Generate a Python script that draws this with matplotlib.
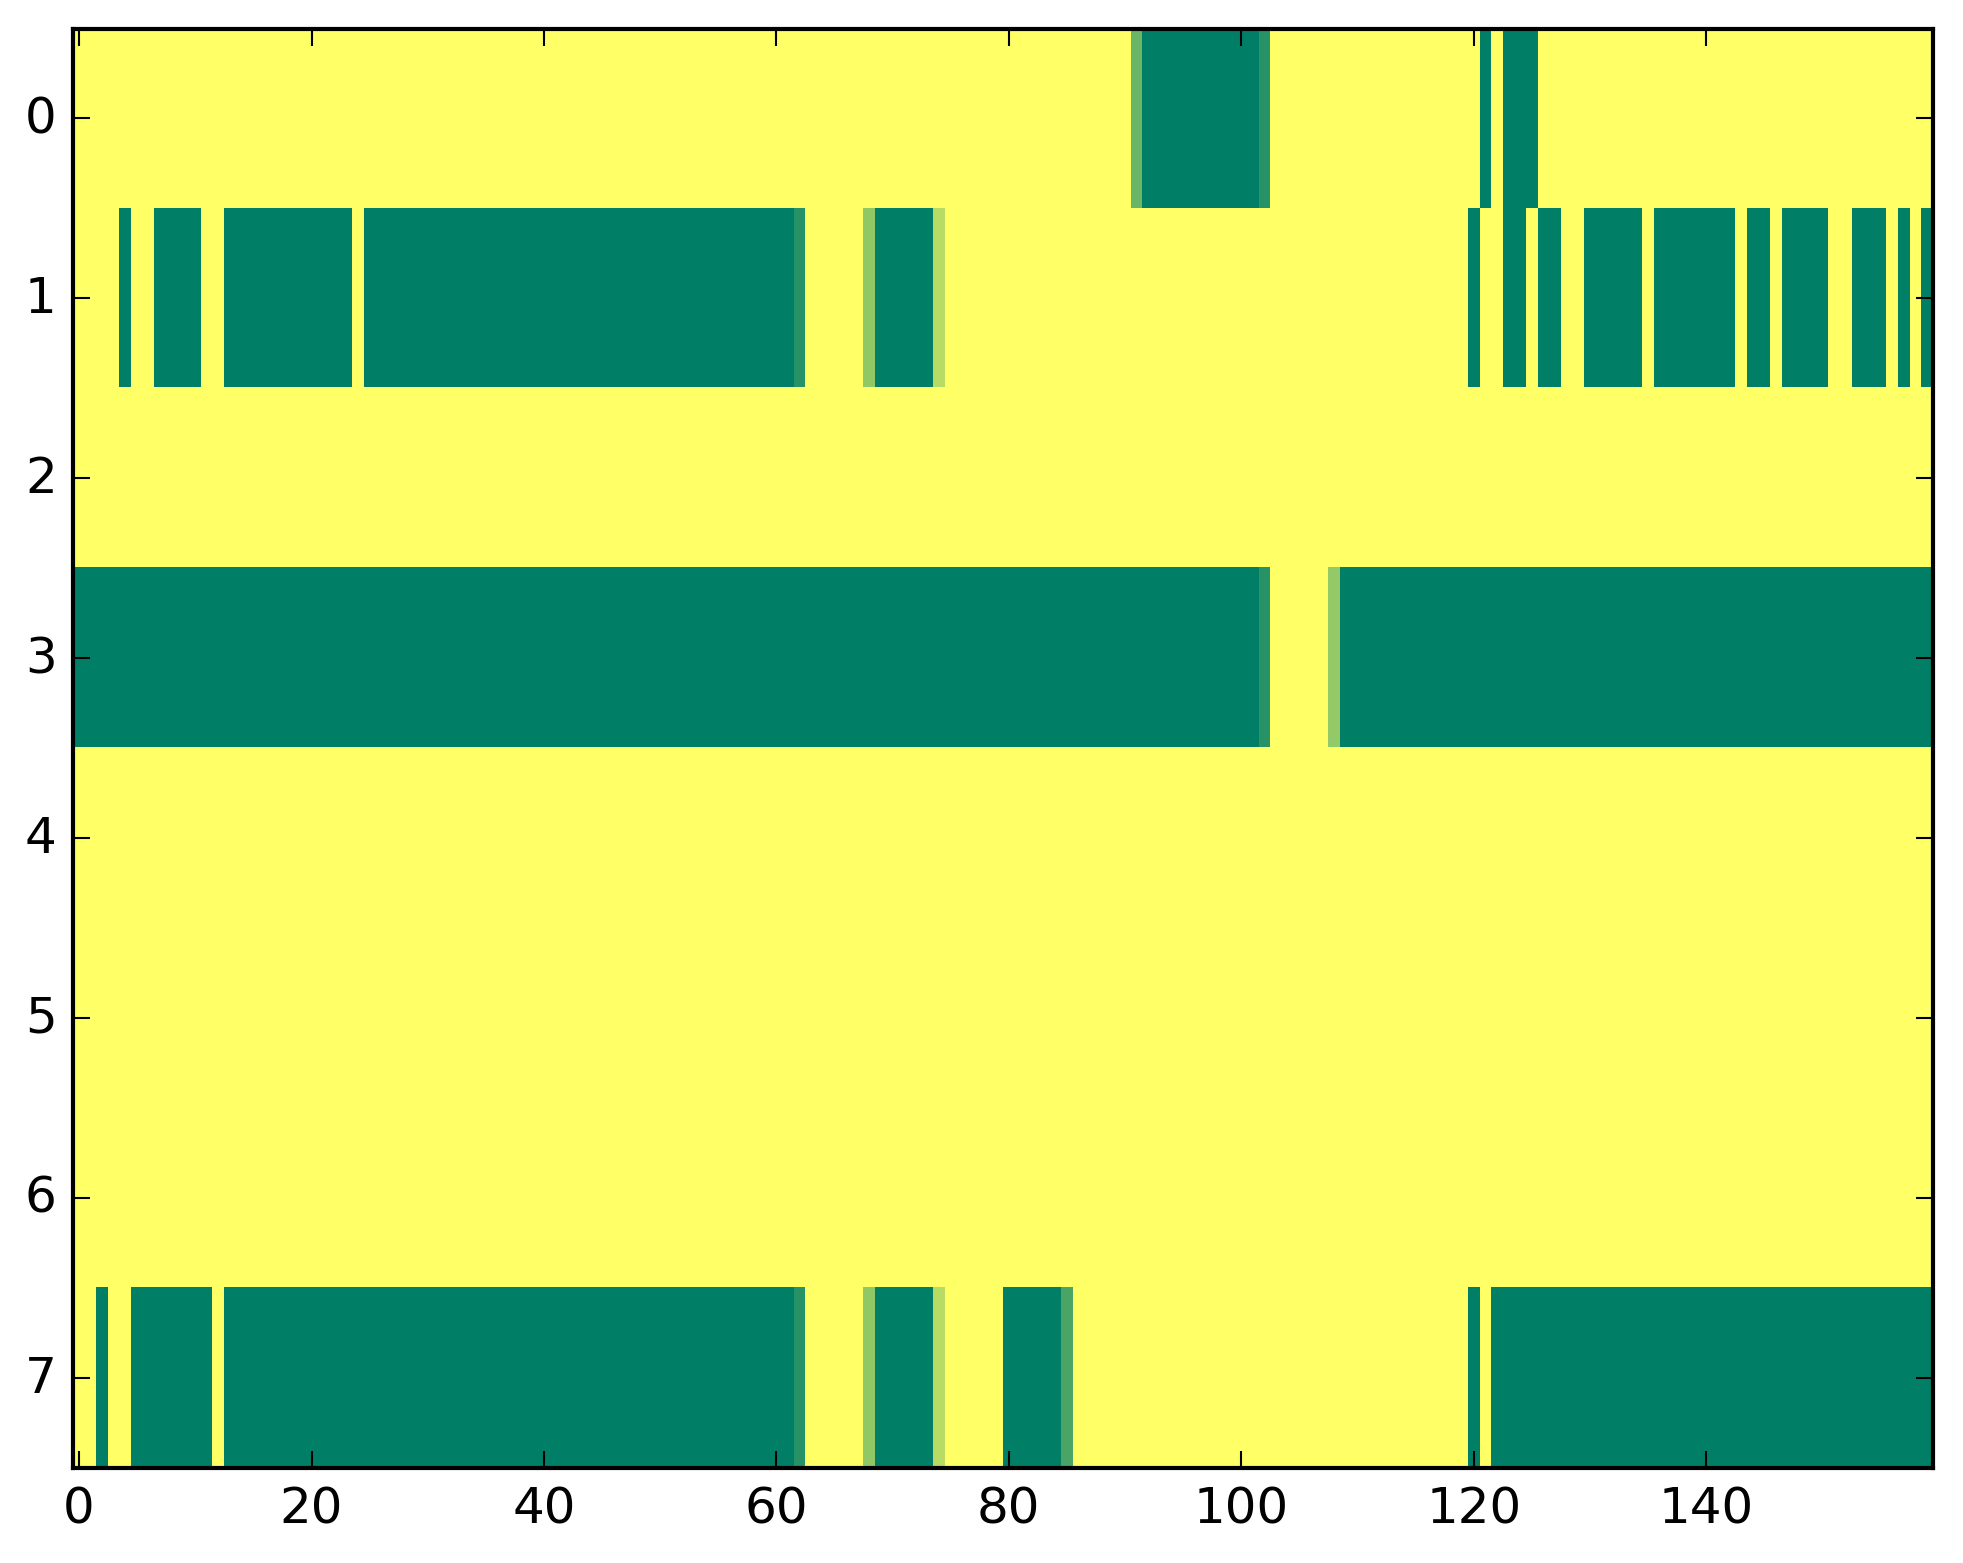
import numpy as np
import matplotlib
matplotlib.use("Agg")
import matplotlib.pyplot as plt

plt.style.use("classic")
plt.rcParams['font.family'] = ['DejaVu Sans']

n_rows = 8
n_cols = 160
background_value = 1.0

# non-background segments per row: (first_col, last_col, value)
row0_segments = [(91, 91, 0.42), (92, 101, 0.0), (102, 102, 0.15),
                 (121, 121, 0.0), (123, 125, 0.0)]
row1_segments = [(4, 4, 0.0), (7, 10, 0.0), (13, 23, 0.0), (25, 61, 0.0),
                 (62, 62, 0.15), (68, 68, 0.57), (69, 73, 0.0), (74, 74, 0.72),
                 (120, 120, 0.0), (123, 124, 0.0), (126, 127, 0.0),
                 (130, 134, 0.0), (136, 142, 0.0), (144, 145, 0.0),
                 (147, 150, 0.0), (153, 155, 0.0), (157, 157, 0.0),
                 (159, 159, 0.0)]
row2_segments = []
row3_segments = [(0, 101, 0.0), (102, 102, 0.15), (108, 108, 0.58),
                 (109, 159, 0.0)]
row4_segments = []
row5_segments = []
row6_segments = []
row7_segments = [(2, 2, 0.0), (5, 11, 0.0), (13, 61, 0.0), (62, 62, 0.15),
                 (68, 68, 0.57), (69, 73, 0.0), (74, 74, 0.72),
                 (80, 84, 0.0), (85, 85, 0.29), (120, 120, 0.0),
                 (122, 159, 0.0)]

all_rows = [row0_segments, row1_segments, row2_segments, row3_segments,
            row4_segments, row5_segments, row6_segments, row7_segments]

data = np.full((n_rows, n_cols), background_value)
for r, segs in enumerate(all_rows):
    for a, b, v in segs:
        data[r, a:b + 1] = v

W, H = 1963, 1564
dpi = 300
fig = plt.figure(figsize=(W / dpi, H / dpi), dpi=dpi, facecolor='white')
ax = fig.add_axes([73.3 / W, (H - 1468.5) / H, (1932.8 - 73.3) / W, (1468.5 - 29.5) / H])
ax.imshow(data, cmap='summer', vmin=0, vmax=1, aspect='auto',
          interpolation='nearest')
ax.set_xlim(-0.5, n_cols - 0.5)
ax.set_ylim(n_rows - 0.5, -0.5)
ax.set_xticks(np.arange(0, 141, 20))
ax.set_yticks(np.arange(0, 8))
ax.tick_params(labelsize=12)

fig.savefig("out.png", dpi=dpi, facecolor='white')
